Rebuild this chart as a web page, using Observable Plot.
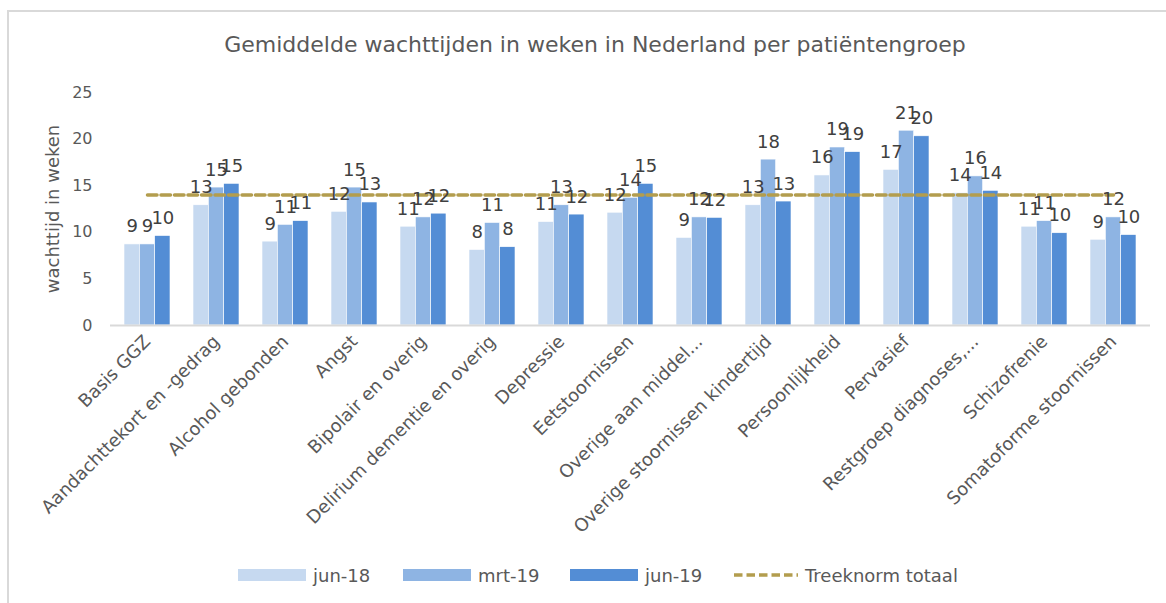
<!DOCTYPE html>
<html>
<head>
<meta charset="utf-8">
<script src="https://cdn.jsdelivr.net/npm/d3@7"></script>
<script src="https://cdn.jsdelivr.net/npm/@observablehq/plot@0.6"></script>
<style>
  html, body { margin: 0; padding: 0; background: #fff; overflow: hidden; }
  #wrap { position: relative; width: 1166px; height: 603px; font-family: "DejaVu Sans", sans-serif; color: #595959; }
  #frame { position: absolute; left: 7px; top: 10px; width: 1200px; height: 700px; border: 2px solid #d9d9d9; box-sizing: border-box; }
  #title { position: absolute; left: 24px; top: 32px; width: 1142px; text-align: center; font-size: 22px; color: #595959; }
  #chart { position: absolute; left: 0; top: 70px; }
  .lg { position: absolute; top: 563px; height: 24px; font-size: 18px; color: #595959; display: flex; align-items: center; white-space: nowrap; }
  .sw { width: 68px; height: 12px; margin-right: 7px; }
</style>
</head>
<body>
<div id="wrap">
  <div id="frame"></div>
  <div id="title">Gemiddelde wachttijden in weken in Nederland per patiëntengroep</div>
  <div id="chart"></div>
  <div id="legend"></div>
</div>
<script>
const categories = [
  "Basis GGZ", "Aandachttekort en -gedrag", "Alcohol gebonden", "Angst",
  "Bipolair en overig", "Delirium dementie en overig", "Depressie", "Eetstoornissen",
  "Overige aan middel...", "Overige stoornissen kindertijd", "Persoonlijkheid", "Pervasief",
  "Restgroep diagnoses,...", "Schizofrenie", "Somatoforme stoornissen"
];
const jun18 = [8.7, 12.9, 9.0, 12.2, 10.6, 8.1, 11.1, 12.1, 9.4, 12.9, 16.1, 16.7, 14.2, 10.6, 9.2];
const mrt19 = [8.7, 14.8, 10.8, 14.8, 11.6, 11.0, 12.9, 13.7, 11.6, 17.8, 19.1, 20.9, 16.0, 11.2, 11.6];
const jun19 = [9.6, 15.2, 11.2, 13.2, 12.0, 8.4, 11.9, 15.2, 11.55, 13.3, 18.6, 20.3, 14.45, 9.9, 9.7];
const treeknorm = 14;
const seriesNames = ["jun-18", "mrt-19", "jun-19"];
const seriesColors = ["#c6d9f0", "#8eb4e3", "#538dd5"];
const lineName = "Treeknorm totaal";
const lineColor = "#b39d4e";
const yTicks = [0, 5, 10, 15, 20, 25];

const data = categories.map((c, i) => ({cat: c, jun18: jun18[i], mrt19: mrt19[i], jun19: jun19[i], norm: treeknorm}));
const keys = ["jun18", "mrt19", "jun19"];

const width = 1166, marginLeft = 110, marginRight = 16;
const paddingInner = 0.336;
const step = (width - marginLeft - marginRight) / categories.length;
const bw = step * (1 - paddingInner);
const sub = bw / 3;

const marks = [];
keys.forEach((k, j) => {
  marks.push(Plot.barY(data, {
    x: "cat", y: k, fill: seriesColors[j],
    insetLeft: sub * j, insetRight: sub * (2 - j),
    stroke: "white", strokeWidth: 0.6
  }));
});
marks.push(Plot.ruleY([0], {stroke: "#d9d9d9", strokeWidth: 2}));
marks.push(Plot.line(data, {x: "cat", y: "norm", stroke: lineColor, strokeWidth: 3.5, strokeDasharray: "9.5,4"}));
keys.forEach((k, j) => {
  marks.push(Plot.text(data, {
    x: "cat", y: k, text: d => String(Math.round(d[k])),
    dx: sub * (j - 1), dy: -12, lineAnchor: "bottom",
    fontSize: 18, fill: "#404040"
  }));
});
marks.push(Plot.axisY({ticks: yTicks, tickSize: 0, tickPadding: 18, fontSize: 16,
  label: null}));
marks.push(Plot.axisY({ticks: [], tickSize: 0, fontSize: 18,
  label: "wachttijd in weken", labelAnchor: "center", labelArrow: "none", labelOffset: 64}));
marks.push(Plot.axisX({tickSize: 0, tickRotate: -45, tickPadding: 13, fontSize: 18, label: null}));

const chart = Plot.plot({
  width, height: 480,
  marginLeft, marginRight, marginTop: 22, marginBottom: 225,
  style: {fontFamily: "DejaVu Sans, sans-serif", color: "#595959", background: "transparent", overflow: "visible"},
  x: {domain: categories, paddingInner, paddingOuter: paddingInner / 2},
  y: {domain: [0, 25]},
  marks
});
document.getElementById("chart").appendChild(chart);

// legend
const lg = document.getElementById("legend");
const lefts = [238, 403, 570, 733];
seriesNames.forEach((n, j) => {
  const d = document.createElement("div");
  d.className = "lg"; d.style.left = lefts[j] + "px";
  d.innerHTML = `<span class="sw" style="background:${seriesColors[j]}"></span><span>${n}</span>`;
  lg.appendChild(d);
});
const dl = document.createElement("div");
dl.className = "lg"; dl.style.left = lefts[3] + "px";
dl.innerHTML = `<svg width="66" height="6" style="margin-right:6px"><line x1="1" y1="3" x2="65" y2="3" stroke="${lineColor}" stroke-width="3.5" stroke-dasharray="8.5,4"/></svg><span>${lineName}</span>`;
lg.appendChild(dl);
</script>
</body>
</html>
